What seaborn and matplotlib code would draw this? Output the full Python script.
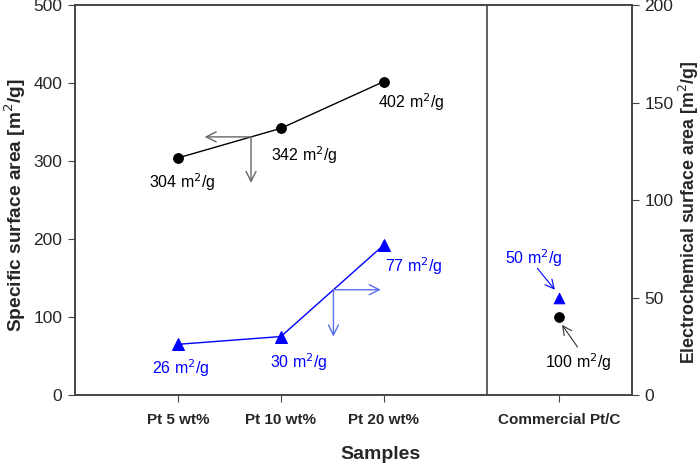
import numpy as np
import pandas as pd
import matplotlib
matplotlib.use("Agg")
import matplotlib.pyplot as plt
import seaborn as sns

# data
samples = ["Pt 5 wt%", "Pt 10 wt%", "Pt 20 wt%", "Commercial Pt/C"]
sample_pos = [1, 2, 3, 4.7]
bet_area = [304, 342, 402, 100]       # specific surface area, left axis
ecsa_area = [26, 30, 77, 50]          # electrochemical surface area, right axis

sns.set_style("ticks")
plt.rcParams["font.family"] = ["Liberation Sans", "DejaVu Sans"]

df = pd.DataFrame({"x": sample_pos, "bet": bet_area, "ecsa": ecsa_area, "name": samples})
synth = df.iloc[:3]
comm = df.iloc[3:]

fig = plt.figure(figsize=(7, 4.65), dpi=100)
ax = fig.add_axes([0.107, 0.1505, 0.796, 0.8385])
ax2 = ax.twinx()

# black: specific surface area
sns.lineplot(data=synth, x="x", y="bet", ax=ax, color="black", lw=1,
             marker="o", markersize=7, markeredgecolor="black")
sns.scatterplot(data=comm, x="x", y="bet", ax=ax, color="black", s=50, marker="o",
                edgecolor="black")

# blue: electrochemical surface area
sns.lineplot(data=synth, x="x", y="ecsa", ax=ax2, color="blue", lw=1,
             marker="^", markersize=8, markeredgecolor="blue")
sns.scatterplot(data=comm, x="x", y="ecsa", ax=ax2, color="blue", s=60, marker="^",
                edgecolor="blue")

ax.set_xlim(0, 5.41)
ax.set_ylim(0, 500)
ax2.set_ylim(0, 200)
ax.set_yticks(np.arange(0, 501, 100))
ax2.set_yticks(np.arange(0, 201, 50))
ax.set_xticks(sample_pos)
ax.set_xticklabels(samples, fontweight="bold")
ax.axvline(4.0, color="#444444", lw=1.2)

for a in (ax, ax2):
    for s in a.spines.values():
        s.set_color("#444444")
        s.set_linewidth(1.2)
    a.tick_params(direction="out", length=5, color="#444444", labelsize=12.5, pad=4)
ax.tick_params(axis="x", pad=8, labelsize=11)

ax.set_xlabel("Samples", fontsize=14, fontweight="bold")
ax.xaxis.set_label_coords(0.549, -0.13)
ax.set_ylabel("Specific surface area [m$^2$/g]", fontsize=13.8, fontweight="bold")
ax.yaxis.set_label_coords(-0.084, 0.487)
ax2.set_ylabel("Electrochemical surface area [m$^2$/g]", fontsize=12.8, fontweight="bold")
ax2.yaxis.set_label_coords(1.08, 0.469)
ax.grid(False)
ax2.grid(False)

# value labels
lbl = "{} m$^2$/g"
kw = dict(fontsize=11.5, ha="center", va="center")
ax.text(1.04, 273, lbl.format(304), color="black", **kw)
ax.text(2.23, 308, lbl.format(342), color="black", **kw)
ax.text(3.27, 375, lbl.format(402), color="black", **kw)
ax2.text(1.03, 14, lbl.format(26), color="blue", **kw)
ax2.text(2.17, 17, lbl.format(30), color="blue", **kw)
ax2.text(3.29, 66, lbl.format(77), color="blue", **kw)
ax2.text(4.46, 70, lbl.format(50), color="blue", **kw)
ax.text(4.89, 42, lbl.format(100), color="black", **kw)

# pointer arrows for the commercial sample
ax2.annotate("", xy=(4.66, 54), xytext=(4.49, 65),
             arrowprops=dict(arrowstyle="->", color="blue", lw=0.8, shrinkA=0, shrinkB=0,
                             mutation_scale=16))
ax.annotate("", xy=(4.73, 90), xytext=(4.88, 61.5),
            arrowprops=dict(arrowstyle="->", color="#333333", lw=0.8, shrinkA=0, shrinkB=0,
                            mutation_scale=16))

# axis indicator arrows
arr = dict(arrowstyle="->", color="#666666", lw=1, mutation_scale=18, shrinkA=0, shrinkB=0)
ax.annotate("", xy=(1.26, 331), xytext=(1.71, 331), arrowprops=arr)
ax.annotate("", xy=(1.71, 272), xytext=(1.71, 331), arrowprops=arr)
arr_b = dict(arr, color="#5a6ef0")
ax2.annotate("", xy=(2.97, 54), xytext=(2.51, 54), arrowprops=arr_b)
ax2.annotate("", xy=(2.51, 30), xytext=(2.51, 54), arrowprops=arr_b)

fig.savefig("out.png", dpi=100)
